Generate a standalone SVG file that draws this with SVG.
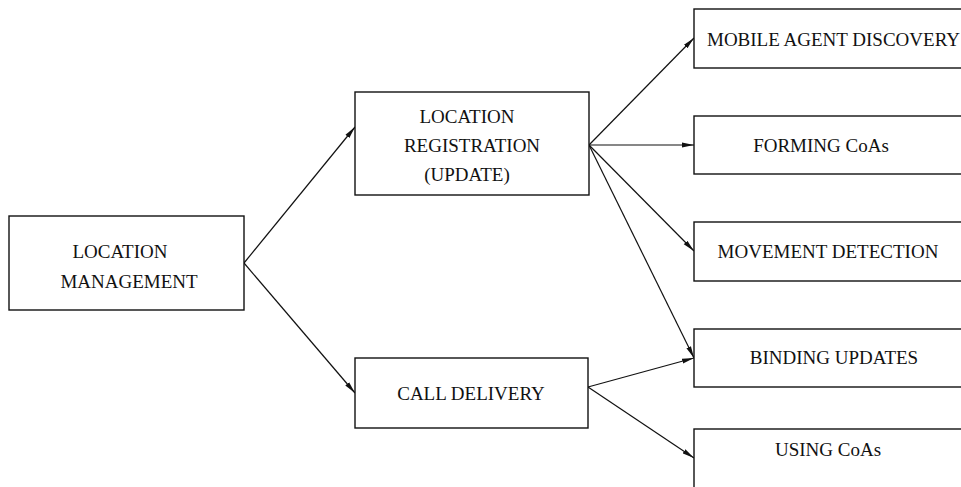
<svg xmlns="http://www.w3.org/2000/svg" width="961" height="487" viewBox="0 0 961 487">
<defs>
<style>
.box{fill:#fff;stroke:#111;stroke-width:1.4}
.t{font-family:"Liberation Serif","Times New Roman",serif;font-size:19px;fill:#111;text-anchor:middle}
.c{stroke:#111;stroke-width:1.2;fill:none;marker-end:url(#ah)}
</style>
<marker id="ah" viewBox="0 0 12 6" refX="12" refY="3" markerWidth="12" markerHeight="6" markerUnits="userSpaceOnUse" orient="auto">
<path d="M0,0.5 L12,3 L0,5.5 Z" fill="#111"/>
</marker>
</defs>
<rect width="961" height="487" fill="#fff"/>
<g id="connectors">
<line class="c" x1="244" y1="263" x2="355" y2="127"/>
<line class="c" x1="244" y1="263" x2="355" y2="393"/>
<line class="c" x1="589" y1="145" x2="694" y2="38"/>
<line class="c" x1="589" y1="145" x2="694" y2="145"/>
<line class="c" x1="589" y1="145" x2="694" y2="251"/>
<line class="c" x1="589" y1="145" x2="694" y2="358"/>
<line class="c" x1="588" y1="387" x2="694" y2="358"/>
<line class="c" x1="588" y1="387" x2="694" y2="458"/>
</g>
<g id="location-management">
<rect class="box" x="9" y="216" width="235" height="94"/>
<text class="t" x="120" y="258">LOCATION</text>
<text class="t" x="129" y="288">MANAGEMENT</text>
</g>
<g id="location-registration">
<rect class="box" x="355" y="92" width="234" height="103"/>
<text class="t" x="467" y="123">LOCATION</text>
<text class="t" x="472" y="152">REGISTRATION</text>
<text class="t" x="467" y="181">(UPDATE)</text>
</g>
<g id="call-delivery">
<rect class="box" x="355" y="358" width="233" height="70"/>
<text class="t" x="471" y="400">CALL DELIVERY</text>
</g>
<g id="mobile-agent-discovery">
<rect class="box" x="694" y="9" width="280" height="59"/>
<text class="t" x="707" y="46" style="text-anchor:start">MOBILE AGENT DISCOVERY</text>
</g>
<g id="forming-coas">
<rect class="box" x="694" y="116" width="280" height="58"/>
<text class="t" x="821" y="152">FORMING CoAs</text>
</g>
<g id="movement-detection">
<rect class="box" x="694" y="222" width="280" height="59"/>
<text class="t" x="828" y="258">MOVEMENT DETECTION</text>
</g>
<g id="binding-updates">
<rect class="box" x="694" y="329" width="280" height="58"/>
<text class="t" x="834" y="364">BINDING UPDATES</text>
</g>
<g id="using-coas">
<rect class="box" x="694" y="429" width="280" height="70"/>
<text class="t" x="828" y="456">USING CoAs</text>
</g>
</svg>
